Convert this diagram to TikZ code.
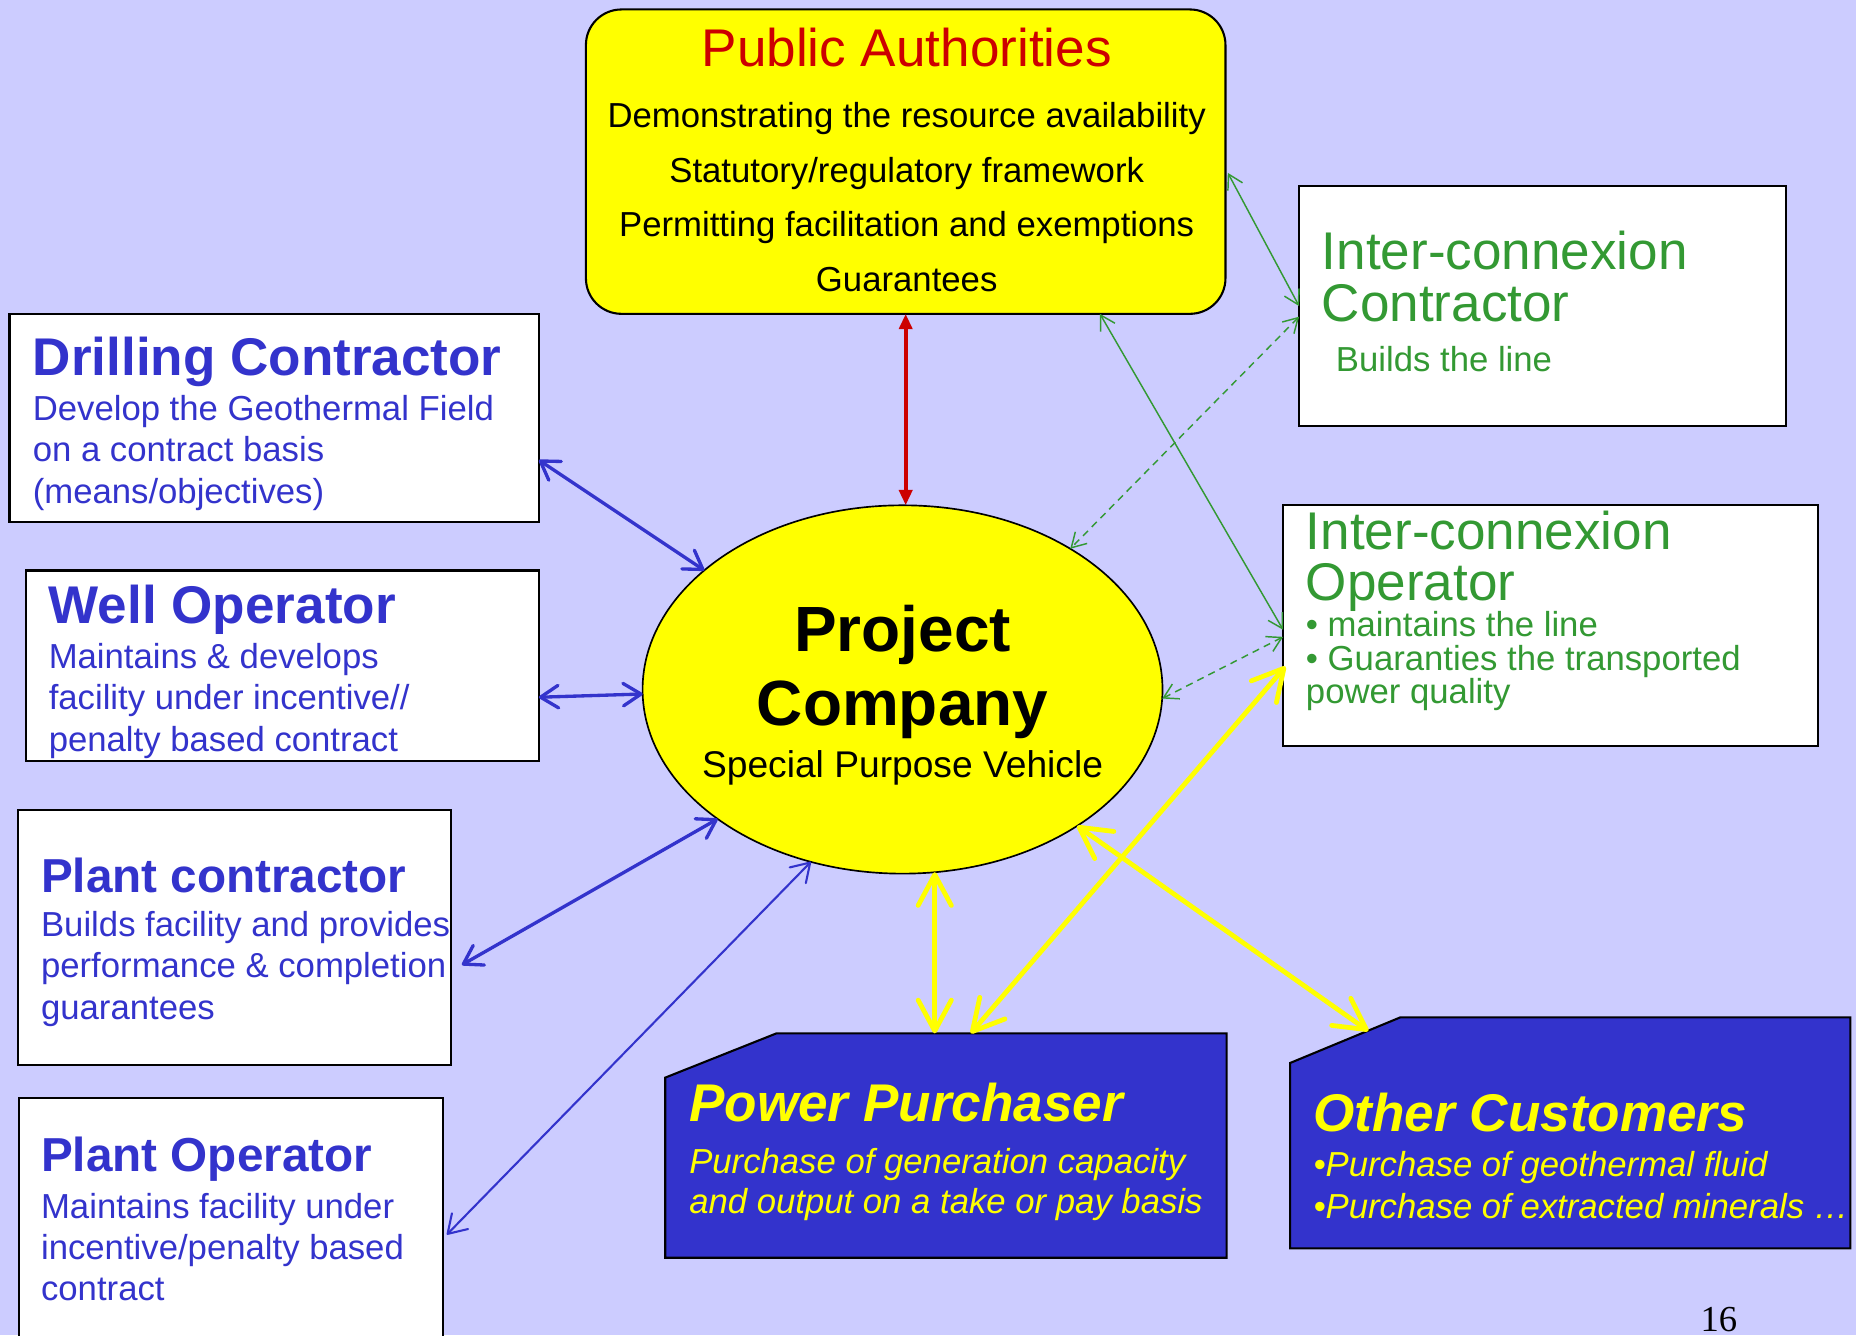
\documentclass[tikz,border=0pt]{standalone}
\usepackage{fontspec}
\setmainfont{Liberation Sans}
\newfontfamily\pagefont{Liberation Serif}
\usetikzlibrary{arrows.meta,shapes.geometric}
\definecolor{slide}{HTML}{CCCCFF}
\definecolor{royal}{HTML}{3333CC}
\definecolor{leaf}{HTML}{339933}
\definecolor{crimson}{HTML}{CC0000}
\definecolor{lemon}{HTML}{FFFF00}
\newcommand{\headsize}{\fontsize{12.75}{15}\selectfont}
\newcommand{\plantsize}{\fontsize{11.45}{14}\selectfont}
\tikzset{
  whitebox/.style={draw=black,line width=0.5pt,fill=white,anchor=north west,inner sep=0pt,outer sep=0pt},
  frame/.style={anchor=north west,inner sep=0pt,outer sep=0pt},
  navybox/.style={draw=black,line width=0.5pt,fill=royal},
  boxtext/.style={anchor=base west,inner sep=0pt,align=flush left,text width=48mm,
    font=\fontsize{8.34}{9.96}\selectfont\lineskiplimit -100pt\relax},
  bluelink/.style={<->,>={Straight Barb[length=1.5mm,width=1.9mm,round]},royal,line width=0.8pt,line cap=round},
  greenlink/.style={<->,>={Straight Barb[length=1.2mm,width=1.4mm]},leaf,line width=0.35pt},
  yellowlink/.style={<->,>={Straight Barb[length=2.6mm,width=2.8mm,round]},lemon,line width=1.15pt,line cap=round},
  redlink/.style={<->,>={Triangle[length=1.3mm,width=1.1mm]},crimson,line width=1pt}
}
\begin{document}
\begin{tikzpicture}[x=0.01cm,y=-0.01cm]
  \useasboundingbox (0,0) rectangle (1568,1128);
  \clip (0,0) rectangle (1568,1128);
  \fill[slide] (0,0) rectangle (1568,1128);
  % centre
  \node[ellipse,draw,fill=lemon,line width=0.4pt,minimum width=43.9mm,minimum height=31.1mm,inner sep=0pt,outer sep=0pt] (pc) at (762.5,582.5) {};
  \node[anchor=base,inner sep=0pt,align=flush center,text width=44mm,font=\fontsize{15.36}{17.64}\selectfont\bfseries\lineskiplimit -100pt\relax] (pctxt) at (762.5,550.5)
    {Project\\Company\\[-5.12pt]
     {\fontsize{8.93}{17.64}\selectfont\mdseries Special Purpose Vehicle}};
  % public authorities
  \node[frame,draw,fill=lemon,line width=0.5pt,rounded corners=3mm,minimum width=54mm,minimum height=25.7mm] (pa) at (495,8) {};
  \node[anchor=base,inner sep=0pt,align=flush center,text width=54mm,font=\fontsize{8.34}{13.09}\selectfont\lineskiplimit -100pt\relax] (patxt) at (766,56)
    {{\headsize\color{crimson}Public Authorities}\\[1.7pt]
     Demonstrating the resource availability\\
     Statutory/regulatory framework\\
     Permitting facilitation and exemptions\\
     Guarantees};
  % left column
  \node[whitebox,minimum width=44.7mm,minimum height=17.6mm] (drill) at (8,265) {};
  \node[boxtext,text=royal] (drilltxt) at (27,317)
    {{\headsize\bfseries Drilling Contractor}\\[0.85pt]
     Develop the Geothermal Field\\
     on a contract basis\\
     (means/objectives)};
  \node[whitebox,minimum width=43.3mm,minimum height=16.1mm] (well) at (22,482) {};
  \node[boxtext,text=royal] (welltxt) at (40.5,526.5)
    {{\headsize\bfseries Well Operator}\\[0.85pt]
     Maintains \& develops\\
     facility under incentive//\\
     penalty based contract};
  \node[whitebox,minimum width=36.5mm,minimum height=21.6mm] (plantc) at (15.5,684) {};
  \node[boxtext,text=royal] (plantctxt) at (34,753.6)
    {{\plantsize\bfseries Plant contractor}\\[0.68pt]
     Builds facility and provides\\
     performance \& completion\\
     guarantees};
  \node[whitebox,minimum width=35.8mm,minimum height=23mm] (planto) at (16,928) {};
  \node[boxtext,text=royal] (plantotxt) at (34,990)
    {{\plantsize\bfseries Plant Operator}\\[1.14pt]
     Maintains facility under\\
     incentive/penalty based\\
     contract};
  % right column
  \node[whitebox,minimum width=41.15mm,minimum height=20.3mm] (ic) at (1097.5,157) {};
  \node[boxtext,text=leaf,font=\fontsize{12.75}{12.43}\selectfont\lineskiplimit -100pt\relax] (ictxt) at (1116,228)
    {Inter-connexion\\
     Contractor\\[-0.43pt]
     {\fontsize{8.34}{12.43}\selectfont\hspace*{3.4pt}Builds the line}};
  \node[whitebox,minimum width=45.2mm,minimum height=20.3mm] (io) at (1084,427) {};
  \node[boxtext,text=leaf,font=\fontsize{8.34}{7.97}\selectfont\lineskiplimit -100pt\relax] (iotxt) at (1102.6,464.6)
    {{\headsize Inter-connexion}\\[4.09pt]
     {\headsize Operator}\\[0.85pt]
     • maintains the line\\
     • Guaranties the transported\\
     power quality};
  % customers
  \node[frame,minimum width=47.4mm,minimum height=18.95mm] (pp) at (562,873) {};
  \draw[navybox] ([yshift=-3.74mm]pp.north west) -- ([xshift=9.4mm]pp.north west) -- (pp.north east) -- (pp.south east) -- (pp.south west) -- cycle;
  \node[boxtext,text=lemon,font=\fontsize{8.34}{9.67}\selectfont\itshape\lineskiplimit -100pt\relax] (pptxt) at (581.6,947.6)
    {{\headsize\bfseries Power Purchaser}\\[2.68pt]
     Purchase of generation capacity\\
     and output on a take or pay basis};
  \node[frame,minimum width=47.3mm,minimum height=19.5mm] (oc) at (1090,859.5) {};
  \draw[navybox] ([yshift=-3.85mm]oc.north west) -- ([xshift=9.3mm]oc.north west) -- (oc.north east) -- (oc.south east) -- (oc.south west) -- cycle;
  \node[boxtext,text=lemon,font=\fontsize{8.34}{9.96}\selectfont\itshape\lineskiplimit -100pt\relax] (octxt) at (1109,956)
    {{\headsize\bfseries Other Customers}\\[0.85pt]
     •Purchase of geothermal fluid\\
     •Purchase of extracted minerals …};
  \node[anchor=base west,inner sep=0pt,font=\pagefont\fontsize{8.8}{10}\selectfont] (pagenum) at (1436,1125) {16};
  % links
  \draw[redlink] (pa.south) -- (pa.south |- pc.north);
  \draw[bluelink] ([yshift=-3.56mm]drill.east) -- (pc.149.5);
  \draw[bluelink] ([yshift=-2.65mm]well.east) -- (pc.181.7);
  \draw[bluelink] ([xshift=0.95mm,yshift=-2.31mm]plantc.east) -- (pc.215);
  \draw[bluelink,line width=0.5pt] ([xshift=0.33mm]planto.east) -- (pc.242.3);
  \draw[greenlink] ([xshift=0.2mm,yshift=-0.95mm]pa.east) -- (ic.west);
  \draw[greenlink] ([xshift=16.4mm]pa.south) -- ([yshift=-0.35mm]io.west);
  \draw[greenlink,dash pattern=on 0.6mm off 0.45mm] ([yshift=-0.9mm]ic.west) -- (pc.40.3);
  \draw[greenlink,dash pattern=on 0.6mm off 0.45mm] ([yshift=-0.95mm]io.west) -- (pc.358.6);
  \draw[yellowlink] (pc.280.7) -- (pc.280.7 |- pp.north);
  \draw[yellowlink] ([xshift=25.8mm]pp.north west) -- ([xshift=0.2mm,yshift=-3.45mm]io.west);
  \draw[yellowlink] (pc.322.7) -- ([xshift=6.6mm,yshift=-1.15mm]oc.north west);
\end{tikzpicture}
\end{document}
